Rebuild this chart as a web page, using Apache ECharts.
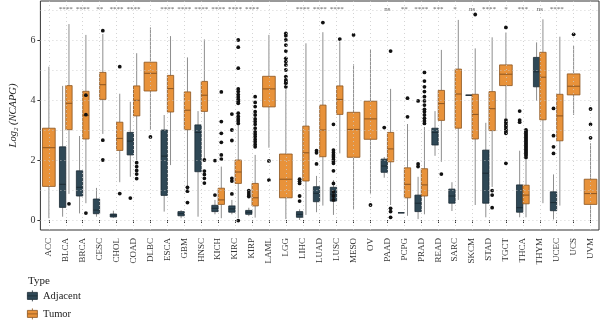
<!DOCTYPE html>
<html>
<head>
<meta charset="utf-8">
<script src="https://cdn.jsdelivr.net/npm/echarts@6/dist/echarts.min.js"></script>
<style>html,body{margin:0;padding:0;background:#fff}#c{width:600px;height:321px}</style>
</head>
<body>
<div id="c"></div>
<script>
const categories = ['ACC','BLCA','BRCA','CESC','CHOL','COAD','DLBC','ESCA','GBM','HNSC','KICH','KIRC','KIRP','LAML','LGG','LIHC','LUAD','LUSC','MESO','OV','PAAD','PCPG','PRAD','READ','SARC','SKCM','STAD','TGCT','THCA','THYM','UCEC','UCS','UVM'];

// [min, Q1, median, Q3, max]
const adjacentStats = [
  null,
  [0.11,0.42,1.19,2.44,4.47],
  [0.22,0.80,1.09,1.64,2.80],
  [0.11,0.21,0.33,0.70,1.07],
  [0.07,0.10,0.16,0.20,0.31],
  [1.44,2.17,2.63,2.92,3.94],
  null,
  [0.28,0.82,2.13,3.00,3.50],
  [0.06,0.14,0.21,0.28,0.33],
  [0.11,1.61,2.92,3.17,3.63],
  [0.19,0.28,0.39,0.49,0.67],
  [0.19,0.26,0.37,0.47,0.67],
  [0.13,0.19,0.26,0.32,0.41],
  null,
  null,
  [0.00,0.09,0.19,0.28,0.36],
  [0.26,0.61,0.89,1.11,1.47],
  [0.17,0.63,0.86,1.09,1.33],
  null,
  null,
  [1.41,1.59,1.80,2.03,2.10],
  [0.24,0.24,0.24,0.24,0.24],
  [0.03,0.28,0.56,0.83,1.44],
  [2.14,2.50,2.92,3.06,3.63],
  [0.30,0.56,0.80,1.03,1.26],
  [4.16,4.16,4.16,4.16,4.16],
  [0.09,0.56,1.56,2.33,3.24],
  null,
  [0.09,0.26,0.41,1.17,2.31],
  [3.97,4.44,4.94,5.42,5.92],
  [0.02,0.31,0.58,0.94,1.52],
  null,
  null
];

const tumorStats = [
  [0.06,1.12,2.41,3.06,5.11],
  [0.87,3.01,3.89,4.48,6.53],
  [0.56,2.70,3.49,4.29,6.17],
  [2.87,4.02,4.51,4.92,6.20],
  [1.26,2.32,2.72,3.26,4.21],
  [2.00,3.47,3.99,4.47,5.56],
  [3.00,4.30,4.89,5.26,6.42],
  [1.83,3.60,4.38,4.82,6.13],
  [1.11,3.01,3.66,4.27,5.42],
  [2.06,3.62,4.16,4.62,6.02],
  [0.06,0.52,0.67,1.06,1.78],
  [0.06,1.22,1.60,2.00,3.50],
  [0.08,0.47,0.74,1.22,2.17],
  [2.41,3.77,4.37,4.79,6.17],
  [0.03,0.74,1.36,2.20,4.35],
  [0.17,1.30,2.24,3.13,5.89],
  [0.48,2.11,3.00,3.83,6.26],
  [2.22,3.52,4.02,4.47,5.95],
  [0.37,2.09,3.02,3.59,5.19],
  [0.86,2.69,3.37,3.96,5.69],
  [0.50,1.94,2.37,2.92,4.37],
  [0.14,0.74,1.19,1.74,3.20],
  [0.19,0.80,1.17,1.71,3.10],
  [1.94,3.32,3.88,4.32,5.67],
  [0.67,3.06,4.20,5.03,6.67],
  [0.50,2.70,3.52,4.19,5.72],
  [1.10,2.98,3.71,4.28,6.09],
  [3.40,4.48,4.86,5.17,6.25],
  [0.09,0.54,0.83,1.16,2.00],
  [0.56,3.34,4.76,5.59,6.69],
  [0.48,2.64,3.47,4.19,6.11],
  [3.50,4.17,4.46,4.87,5.80],
  [0.02,0.52,0.88,1.36,2.56]
];

const adjacentOutliers = [
  [], [], [], [], [], [0.73], [], [], [], [],
  [1.98,0.83],
  [3.53,3.00,2.65,1.39,1.30,0.87],
  [0.98,0.90,0.83,0.78],
  [], [],
  [1.36,1.29,1.22,0.80,0.63],
  [2.31,2.24,1.87],
  [3.19,2.33,2.25,2.17,2.10,2.02,1.95,1.89,1.64,1.22,0.94,0.80,0.67],
  [], [],
  [3.08],
  [],
  [3.97,1.87,1.78],
  [], [], [], [], [],
  [3.63,3.33,3.26],
  [],
  [3.72,2.81,2.44,2.22],
  [], []
];

const tumorOutliers = [
  [],
  [0.54],
  [4.16,3.51,0.23],
  [6.31,2.66,2.00],
  [5.11,0.88],
  [1.91,1.78,1.65,1.53,1.38],
  [2.77],
  [],
  [1.09,0.96,0.58],
  [2.00,1.63,1.52,1.39,1.23],
  [4.27,3.28,2.89,2.59,2.17,2.03],
  [6.00,5.76,5.06,4.37,4.28,4.18,4.10,4.02,3.95,3.89,3.56,3.45,3.37,3.30,3.22,-0.02],
  [4.11,3.92,3.78,3.61,3.50,3.37,3.28,3.19,3.06,2.94,2.86,2.78,2.69,2.61,2.52,2.44],
  [1.97,1.33],
  [6.22,6.14,6.00,5.83,5.63,5.39,5.28,5.17,5.00,4.78,4.67,4.61,4.56,4.44],
  [],
  [6.58],
  [6.03],
  [6.17],
  [0.50],
  [5.63,0.39,0.28,0.09],
  [4.06,3.44],
  [4.92,4.63,4.44,4.28,4.11,3.97,3.83,3.69,3.61,3.50,3.39,3.30,3.22],
  [1.53],
  [],
  [6.85],
  [0.98,0.83,0.41],
  [6.42,3.33,3.25,3.17,3.10,3.02,2.95,2.89,1.89],
  [3.00,2.95,2.90,2.85,2.80,2.75,2.70,2.65,2.60,2.55,2.50,2.45,2.40,2.35,2.30,2.25,2.20,2.15,2.08],
  [],
  [],
  [6.19],
  [3.70,3.19,2.74]
];

const sigLabels = ['','****','****','**','****','****','','****','****','****','****','****','****','','','****','****','****','','','ns','**','****','***','*','ns','****','*','***','ns','****','',''];

const yTickValues = [0,2,4,6];
const yGridValues = [0,1,2,3,4,5,6,7];

const COL_ADJ = '#2f4856';
const COL_TUM = '#e8923a';
const EDGE_ADJ = '#1b2a33';
const EDGE_TUM = '#8a5420';
const SERIF = '"Liberation Serif", "DejaVu Serif", serif';

// mode: 0 = adjacent (left half), 1 = tumor (right half), 2 = tumor alone (centered)
function boxData(stats, isAdj) {
  const out = [];
  stats.forEach((s, i) => {
    if (!s) return;
    const mode = isAdj ? 0 : (adjacentStats[i] ? 1 : 2);
    out.push([i, s[0], s[1], s[2], s[3], s[4], mode]);
  });
  return out;
}
function outlierData(lists, isAdj) {
  const out = [];
  lists.forEach((l, i) => {
    const mode = isAdj ? 0 : (adjacentStats[i] ? 1 : 2);
    l.forEach(v => out.push([i, v, mode]));
  });
  return out;
}
function xSpan(api, i, mode) {
  const band = api.size([1, 0])[0];
  const xc = api.coord([i, 0])[0];
  const half = band * 0.375;
  if (mode === 0) return [xc - half, xc];
  if (mode === 1) return [xc, xc + half];
  return [xc - half, xc + half];
}
function makeBoxRender(fill, edge) {
  return function (params, api) {
    const i = api.value(0);
    const mode = api.value(6);
    const [x0, x1] = xSpan(api, i, mode);
    const xm = (x0 + x1) / 2;
    const y = k => api.coord([i, api.value(k)])[1];
    const yMin = y(1), yQ1 = y(2), yMed = y(3), yQ3 = y(4), yMax = y(5);
    const wStyle = { stroke: '#8e8e8e', lineWidth: 1 };
    return {
      type: 'group',
      children: [
        { type: 'line', shape: { x1: xm, y1: yMax, x2: xm, y2: yQ3 }, style: wStyle },
        { type: 'line', shape: { x1: xm, y1: yQ1, x2: xm, y2: yMin }, style: wStyle },
        { type: 'rect', shape: { x: x0, y: yQ3, width: x1 - x0, height: Math.max(yQ1 - yQ3, 0) }, style: { fill: fill, stroke: edge, lineWidth: 0.8 } },
        { type: 'line', shape: { x1: x0, y1: yMed, x2: x1, y2: yMed }, style: { stroke: edge, lineWidth: 1 } }
      ]
    };
  };
}
function outlierRender(params, api) {
  const i = api.value(0);
  const mode = api.value(2);
  const [x0, x1] = xSpan(api, i, mode);
  const yv = api.coord([i, api.value(1)])[1];
  return { type: 'circle', shape: { cx: (x0 + x1) / 2, cy: yv, r: 1.9 }, style: { fill: '#111' } };
}
function sigRender(params, api) {
  const i = api.value(0);
  const p = api.coord([i, api.value(1)]);
  return { type: 'text', style: { text: sigLabels[i], x: p[0], y: p[1], align: 'center', verticalAlign: 'middle', font: '7px ' + SERIF, fill: '#555' } };
}

const boxIcon = 'path://M0,2 L10,2 L10,9 L0,9 Z M0,5.5 L10,5.5 M5,0 L5,2 M5,9 L5,11';
const legendBase = {
  orient: 'vertical', left: 27, padding: 0, itemWidth: 11, itemHeight: 11, itemGap: 4,
  textStyle: { fontFamily: SERIF, fontSize: 10.5, color: '#222' }
};

const chart = echarts.init(document.getElementById('c'), null, { renderer: 'canvas' });
chart.setOption({
  animation: false,
  backgroundColor: '#fff',
  title: {
    text: 'Type', left: 28, top: 276, padding: 0,
    textStyle: { fontFamily: SERIF, fontSize: 11, fontWeight: 'normal', color: '#222' }
  },
  legend: [
    Object.assign({}, legendBase, {
      top: 290,
      data: [{ name: 'Adjacent', icon: boxIcon, itemStyle: { color: COL_ADJ, borderColor: EDGE_ADJ, borderWidth: 0.8 } }]
    }),
    Object.assign({}, legendBase, {
      top: 308,
      data: [{ name: 'Tumor', icon: boxIcon, itemStyle: { color: COL_TUM, borderColor: EDGE_TUM, borderWidth: 0.8 } }]
    })
  ],
  grid: { left: 29, right: 1, top: 1, bottom: 91, show: true, borderColor: '#333', borderWidth: 1, backgroundColor: 'transparent' },
  xAxis: {
    type: 'category', data: categories, boundaryGap: true,
    axisLine: { show: false },
    axisTick: { show: true, alignWithLabel: true, length: 3, lineStyle: { color: '#333' } },
    axisLabel: { rotate: 90, margin: 8, fontFamily: SERIF, fontSize: 9, color: '#333', interval: 0 },
    splitLine: { show: false }
  },
  yAxis: {
    type: 'value', min: -0.333, max: 7.3,
    name: 'Log{s|2} (NCAPG)', nameLocation: 'middle', nameGap: 16, nameRotate: 90,
    nameTextStyle: { fontFamily: SERIF, fontSize: 10.5, fontStyle: 'italic', color: '#222', rich: { s: { fontFamily: SERIF, fontSize: 7, fontStyle: 'italic', verticalAlign: 'bottom', padding: [5, 0, 0, 0] } } },
    axisLine: { show: false },
    axisTick: { show: true, length: 3, customValues: yTickValues, lineStyle: { color: '#333' } },
    axisLabel: { customValues: yTickValues, margin: 5, fontFamily: SERIF, fontSize: 10, color: '#333' },
    splitLine: { show: false }
  },
  series: [
    {
      name: 'grid', type: 'scatter', data: [], silent: true, z: 1,
      markLine: {
        silent: true, symbol: 'none', label: { show: false }, animation: false,
        lineStyle: { color: '#c9c9c9', width: 0.8, type: [1, 3] },
        data: yGridValues.map(v => ({ yAxis: v })).concat(categories.map(c => ({ xAxis: c })))
      }
    },
    { name: 'Adjacent', type: 'custom', renderItem: makeBoxRender(COL_ADJ, EDGE_ADJ), data: boxData(adjacentStats, true), itemStyle: { color: COL_ADJ }, z: 3, silent: true },
    { name: 'Tumor', type: 'custom', renderItem: makeBoxRender(COL_TUM, EDGE_TUM), data: boxData(tumorStats, false), itemStyle: { color: COL_TUM }, z: 3, silent: true },
    { name: 'outA', type: 'custom', renderItem: outlierRender, data: outlierData(adjacentOutliers, true), z: 4, silent: true },
    { name: 'outT', type: 'custom', renderItem: outlierRender, data: outlierData(tumorOutliers, false), z: 4, silent: true },
    { name: 'sig', type: 'custom', renderItem: sigRender, data: categories.map((c, i) => [i, 7.03]), z: 4, silent: true }
  ]
});
</script>
</body>
</html>
